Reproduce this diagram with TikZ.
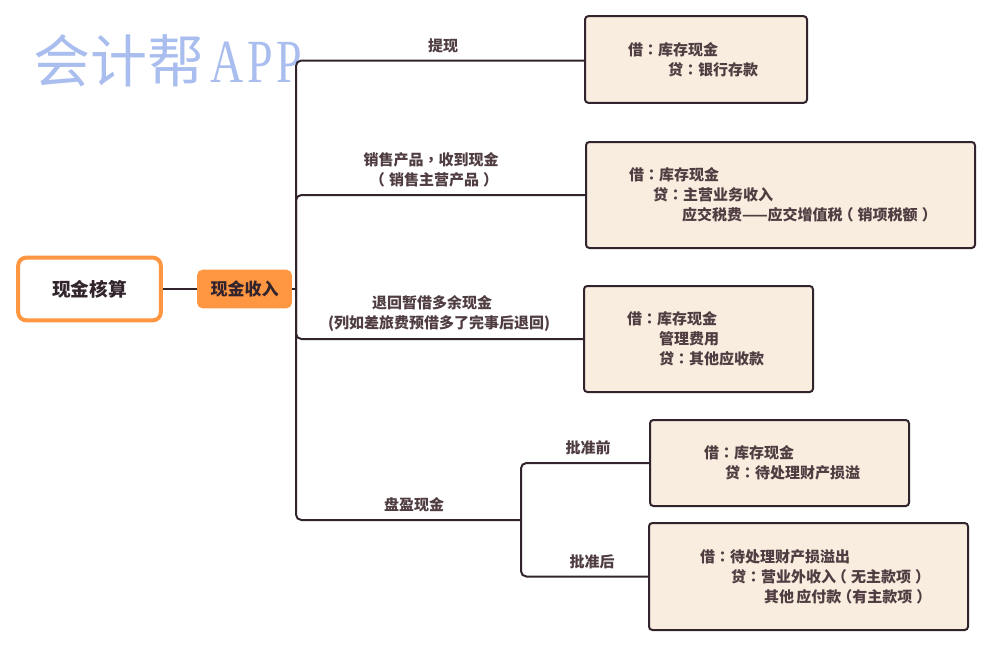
\documentclass[tikz,border=0pt]{standalone}
\usepackage{fontspec}
\usepackage{xcolor}
\setmainfont{Noto Sans CJK SC}
\newfontfamily\punctfont{Noto Sans CJK TC}
\newfontfamily\markfont[FakeStretch=0.75,LetterSpace=6]{Liberation Serif}
\newcommand{\pc}[1]{{\punctfont #1}}
\newcommand{\lpc}{\kern-3.15pt（\kern3.15pt}
\newcommand{\rpc}{\kern3.15pt）\kern-3.15pt}
\usetikzlibrary{positioning}
\definecolor{inkline}{HTML}{32242C}
\definecolor{inktext}{HTML}{4F3D41}
\definecolor{boxfill}{HTML}{F8EDDF}
\definecolor{orangefill}{HTML}{FF9642}
\definecolor{markblue}{HTML}{A9BDEE}
\tikzset{
	entrybox/.style={draw=inkline,fill=boxfill,line width=1.5pt,rounded corners=2.5pt,inner xsep=0pt,inner ysep=0pt,align=left,text=inktext,font=\fontsize{11.25}{15}\selectfont\bfseries},
	branchlabel/.style={text=inktext,align=center,inner sep=0pt,font=\fontsize{11.25}{15}\selectfont\bfseries},
	branchline/.style={draw=inkline,line width=1.5pt,rounded corners=4pt},
}
\begin{document}
\begin{tikzpicture}[x=0.75pt,y=-0.75pt]
		\useasboundingbox (0,0) rectangle (992,647);
		%
		\node[anchor=west,inner sep=0pt,text=markblue,font=\fontsize{42.75}{50}\selectfont] (mark) at (33,61) {会计帮\hspace{4.5pt}{\markfont\fontsize{46}{50}\selectfont APP}};
		%
		\node[draw=orangefill,fill=white,line width=3pt,rounded corners=6pt,minimum width=107pt,minimum height=47pt,inner sep=0pt,text=inkline,font=\fontsize{14}{15}\selectfont\bfseries] (root) at (89.5,289) {现金核算};
		\node[fill=orangefill,rounded corners=4pt,minimum width=71pt,minimum height=29pt,inner sep=0pt,text=inkline,font=\fontsize{12.75}{15}\selectfont\bfseries] (income) at (244.5,289) {现金收入};
		\coordinate (fork) at (296,289);
		\coordinate (forkb) at (521,520);
		%
		\node[entrybox,minimum width=166.5pt,minimum height=65pt,text width=166.5pt] (draw) at (696,59.5) {\hspace*{32.25pt}借\pc{：}库存现金\\\hspace*{62.25pt}贷\pc{：}银行存款};
		\node[entrybox,minimum width=291.75pt,minimum height=79.5pt,text width=291.75pt] (sale) at (780.5,195) {\hspace*{32.25pt}借\pc{：}库存现金\\\hspace*{50.25pt}贷\pc{：}主营业务收入\\\hspace*{72pt}应交税费——应交增值税\lpc 销项税额\rpc};
		\node[entrybox,minimum width=171.75pt,minimum height=79.5pt,text width=171.75pt] (refund) at (698.5,339) {\hspace*{32.25pt}借\pc{：}库存现金\\\hspace*{56.25pt}管理费用\\\hspace*{56.25pt}贷\pc{：}其他应收款};
		\node[entrybox,minimum width=194.25pt,minimum height=64.5pt,text width=194.25pt] (before) at (779.5,463) {\hspace*{40.5pt}借\pc{：}库存现金\\\hspace*{56.25pt}贷\pc{：}待处理财产损溢};
		\node[entrybox,minimum width=239.25pt,minimum height=80.25pt,text width=239.25pt] (after) at (808.5,576.5) {\hspace*{38.25pt}借\pc{：}待处理财产损溢出\\\hspace*{61.5pt}贷\pc{：}营业外收入\lpc 无主款项\rpc\\\hspace*{86.25pt}其他\,应付款\kern-3.15pt（有主款项\rpc};
		%
		\node[branchlabel] (drawl) at (443,46) {提现};
		\node[branchlabel] (salel) at (431,170) {销售产品\pc{，}收到现金\\\hspace*{4.5pt}\lpc 销售主营产品\rpc};
		\node[branchlabel] (refundl) at (439,314) {退回暂借多余现金\hspace*{10.5pt}\\(列如差旅费预借多了完事后退回)};
		\node[branchlabel] (surplusl) at (414,505) {盘盈现金};
		\node[branchlabel] (beforel) at (588,448) {批准前};
		\node[branchlabel] (afterl) at (592,562) {批准后};
		%
		\draw[draw=inkline,line width=1pt] (root) -- (income);
		\draw[branchline] (income) -- (fork);
		\draw[branchline] (fork) |- ([yshift=-0.75pt]draw.west);
		\draw[branchline] (fork) |- (sale);
		\draw[branchline] (fork) |- (refund);
		\draw[branchline] (fork) |- (forkb);
		\draw[branchline] (forkb) |- (before);
		\draw[branchline] (forkb) |- (after);
		\end{tikzpicture}
\end{document}
